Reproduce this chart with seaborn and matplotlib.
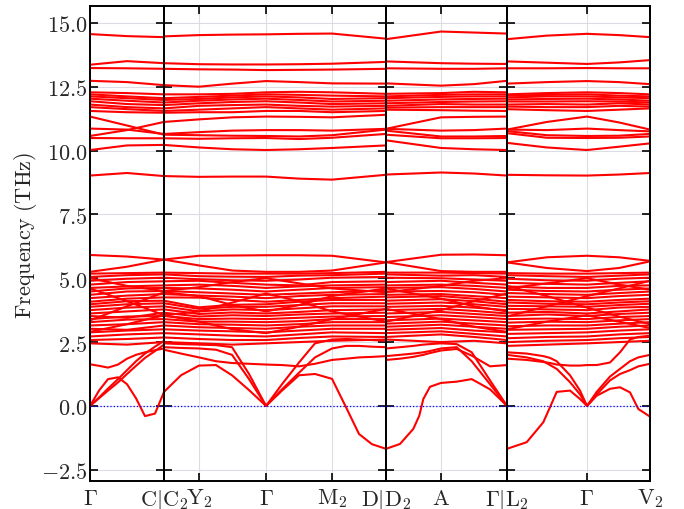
import numpy as np
import pandas as pd
import matplotlib
matplotlib.use('Agg')
import matplotlib.pyplot as plt
from matplotlib.ticker import FuncFormatter, MultipleLocator
import seaborn as sns

# k-path: four disconnected segments (lengths in 1/A-like path units)
seg_len = [0.74, 2.22, 1.21, 1.43]
coarse_k = [
    [0, 0.37, 0.74],
    [0, 0.35, 0.685, 1.02, 1.35, 1.68, 2.22],
    [0, 0.55, 0.88, 1.21],
    [0, 0.4, 0.8, 1.12, 1.43],
]
tick_k = [
    [0, 0.74],
    [0, 0.35, 1.02, 1.68, 2.22],
    [0, 0.55, 1.21],
    [0, 0.8, 1.43],
]
tick_labels = [
    [r'$\Gamma$', ''],
    [r'$\mathrm{C}|\mathrm{C}_2$', r'$\mathrm{Y}_2$', r'$\Gamma$', r'$\mathrm{M}_2$', ''],
    [r'$\mathrm{D}|\mathrm{D}_2$', r'$\mathrm{A}$', ''],
    [r'$\Gamma|\mathrm{L}_2$', r'$\Gamma$', r'$\mathrm{V}_2$'],
]

# high-frequency bands (THz) on the coarse grids: 3 | 7 | 4 | 5 points
high_bands = [
    [14.56, 14.48, 14.44, 14.47, 14.52, 14.54, 14.55, 14.57, 14.58, 14.38, 14.36, 14.66, 14.62, 14.58, 14.36, 14.5, 14.57, 14.52, 14.44],
    [13.36, 13.5, 13.42, 13.42, 13.38, 13.37, 13.37, 13.38, 13.4, 13.47, 13.49, 13.42, 13.4, 13.39, 13.49, 13.44, 13.39, 13.45, 13.54],
    [13.23, 13.22, 13.2, 13.2, 13.18, 13.17, 13.15, 13.16, 13.17, 13.2, 13.22, 13.2, 13.2, 13.22, 13.22, 13.22, 13.23, 13.22, 13.22],
    [12.73, 12.68, 12.56, 12.56, 12.5, 12.62, 12.72, 12.68, 12.63, 12.62, 12.63, 12.54, 12.6, 12.73, 12.62, 12.68, 12.72, 12.68, 12.6],
    [12.28, 12.25, 12.2, 12.2, 12.2, 12.22, 12.28, 12.3, 12.28, 12.22, 12.22, 12.25, 12.3, 12.28, 12.2, 12.25, 12.28, 12.25, 12.2],
    [12.2, 12.12, 12.05, 12.05, 12.1, 12.15, 12.2, 12.18, 12.15, 12.12, 12.12, 12.18, 12.2, 12.2, 12.15, 12.18, 12.2, 12.15, 12.12],
    [12.12, 12.05, 11.98, 11.98, 12.02, 12.08, 12.12, 12.08, 12.02, 12.05, 12.05, 12.1, 12.12, 12.12, 12.08, 12.12, 12.12, 12.08, 12.05],
    [12.03, 11.95, 11.88, 11.88, 11.95, 12.0, 12.03, 11.98, 11.92, 11.95, 11.95, 12.0, 12.02, 12.03, 12.0, 12.02, 12.03, 12.0, 11.95],
    [11.93, 11.82, 11.78, 11.78, 11.85, 11.9, 11.93, 11.88, 11.82, 11.85, 11.85, 11.9, 11.92, 11.93, 11.92, 11.92, 11.93, 11.92, 11.88],
    [11.8, 11.7, 11.65, 11.65, 11.75, 11.78, 11.8, 11.75, 11.72, 11.75, 11.75, 11.82, 11.8, 11.8, 11.8, 11.82, 11.8, 11.85, 11.8],
    [11.7, 11.62, 11.55, 11.55, 11.6, 11.65, 11.7, 11.65, 11.6, 11.65, 11.68, 11.7, 11.7, 11.7, 11.72, 11.7, 11.7, 11.75, 11.72],
    [11.55, 11.5, 11.48, 11.48, 11.5, 11.5, 11.55, 11.55, 11.5, 11.55, 11.6, 11.58, 11.56, 11.55, 11.62, 11.58, 11.55, 11.6, 11.65],
    [10.57, 10.8, 11.12, 11.12, 11.22, 11.3, 11.33, 11.32, 11.3, 11.4, 10.85, 11.3, 11.32, 11.33, 10.82, 11.12, 11.33, 11.1, 10.82],
    [10.86, 10.82, 10.65, 10.65, 10.72, 10.78, 10.8, 10.8, 10.78, 10.85, 10.85, 10.78, 10.8, 10.86, 10.82, 10.8, 10.86, 10.8, 10.75],
    [11.33, 10.98, 10.62, 10.62, 10.6, 10.58, 10.57, 10.55, 10.6, 10.82, 10.78, 10.55, 10.55, 10.57, 10.76, 10.6, 10.57, 10.58, 10.65],
    [10.49, 10.48, 10.48, 10.48, 10.46, 10.48, 10.49, 10.45, 10.5, 10.65, 10.62, 10.48, 10.48, 10.49, 10.68, 10.5, 10.49, 10.5, 10.55],
    [10.02, 10.2, 10.22, 10.22, 10.12, 10.05, 10.02, 10.05, 10.1, 10.2, 10.4, 10.1, 10.05, 10.02, 10.3, 10.12, 10.02, 10.15, 10.28],
    [9.02, 9.12, 9.0, 9.0, 8.97, 8.98, 8.98, 8.9, 8.86, 9.05, 9.06, 9.14, 9.1, 9.02, 9.05, 9.03, 9.02, 9.06, 9.12],
]

# dense optical manifold 2.4 - 5.9 THz, same coarse grids
mid_bands = [
    [5.91, 5.85, 5.73, 5.73, 5.88, 5.89, 5.9, 5.9, 5.88, 5.62, 5.63, 5.92, 5.93, 5.9, 5.62, 5.82, 5.88, 5.82, 5.68],
    [5.25, 5.45, 5.73, 5.73, 5.5, 5.3, 5.25, 5.25, 5.3, 5.62, 5.63, 5.28, 5.25, 5.25, 5.62, 5.4, 5.28, 5.4, 5.66],
    [5.18, 5.2, 5.22, 5.22, 5.2, 5.18, 5.18, 5.18, 5.2, 5.25, 5.22, 5.22, 5.2, 5.18, 5.2, 5.18, 5.18, 5.2, 5.22],
    [5.05, 5.12, 5.15, 5.15, 5.08, 5.06, 5.05, 5.1, 5.12, 5.18, 5.15, 5.1, 5.12, 5.05, 5.12, 5.08, 5.05, 5.1, 5.15],
    [4.9, 4.98, 5.02, 5.02, 4.96, 4.92, 4.9, 4.95, 5.02, 5.05, 5.02, 5.0, 4.95, 4.9, 4.98, 4.92, 4.9, 4.98, 5.02],
    [4.75, 4.85, 4.88, 4.88, 4.9, 4.82, 4.75, 4.72, 4.85, 4.88, 4.85, 4.9, 4.82, 4.75, 4.82, 4.78, 4.75, 4.82, 4.88],
    [4.62, 4.68, 4.72, 4.72, 4.75, 4.7, 4.62, 4.68, 4.72, 4.75, 4.72, 4.75, 4.7, 4.62, 4.68, 4.62, 4.62, 4.7, 4.72],
    [4.48, 4.6, 4.62, 4.62, 4.6, 4.55, 4.48, 4.55, 4.62, 4.65, 4.62, 4.65, 4.58, 4.48, 4.55, 4.5, 4.48, 4.55, 4.6],
    [4.35, 4.48, 4.5, 4.5, 4.45, 4.4, 4.35, 4.4, 4.45, 4.52, 4.48, 4.5, 4.45, 4.35, 4.42, 4.38, 4.35, 4.42, 4.48],
    [4.22, 4.32, 4.38, 4.38, 4.32, 4.28, 4.22, 4.3, 4.35, 4.38, 4.35, 4.38, 4.3, 4.22, 4.28, 4.25, 4.22, 4.3, 4.35],
    [4.08, 4.2, 4.25, 4.25, 4.24, 4.15, 4.08, 4.15, 4.22, 4.28, 4.25, 4.3, 4.2, 4.08, 4.15, 4.1, 4.08, 4.15, 4.2],
    [3.98, 4.1, 4.12, 4.12, 3.86, 3.96, 3.98, 4.08, 4.15, 4.15, 4.12, 4.18, 4.1, 3.98, 4.05, 4.0, 3.98, 4.05, 4.1],
    [3.88, 3.98, 4.02, 4.02, 3.8, 3.88, 3.88, 3.95, 4.02, 4.02, 4.0, 4.05, 3.98, 3.88, 3.92, 3.9, 3.88, 3.95, 4.0],
    [3.75, 3.85, 3.9, 3.9, 3.7, 3.78, 3.75, 3.82, 3.9, 3.9, 3.88, 3.92, 3.85, 3.75, 3.8, 3.78, 3.75, 3.85, 3.88],
    [3.62, 3.7, 3.78, 3.78, 3.6, 3.66, 3.62, 3.68, 3.75, 3.78, 3.75, 3.8, 3.72, 3.62, 3.65, 3.68, 3.62, 3.7, 3.78],
    [3.52, 3.45, 3.65, 3.65, 3.5, 3.55, 3.52, 3.58, 3.62, 3.65, 3.62, 3.68, 3.6, 3.52, 3.52, 3.58, 3.52, 3.6, 3.65],
    [3.4, 3.5, 3.52, 3.52, 3.4, 3.42, 3.4, 3.45, 3.5, 3.52, 3.48, 3.55, 3.48, 3.4, 3.4, 3.42, 3.4, 3.48, 3.52],
    [3.28, 3.38, 3.4, 3.4, 3.3, 3.3, 3.28, 3.32, 3.4, 3.4, 3.35, 3.42, 3.35, 3.28, 3.26, 3.3, 3.28, 3.35, 3.4],
    [3.15, 3.2, 3.28, 3.28, 3.2, 3.18, 3.15, 3.2, 3.28, 3.28, 3.22, 3.3, 3.22, 3.15, 3.12, 3.15, 3.15, 3.22, 3.28],
    [3.02, 2.98, 3.15, 3.15, 3.08, 3.05, 3.02, 3.1, 3.15, 3.15, 3.1, 3.18, 3.1, 3.02, 2.98, 3.0, 3.02, 3.1, 3.15],
    [2.88, 2.95, 3.0, 3.0, 2.95, 2.92, 2.88, 2.95, 3.02, 3.02, 2.98, 3.05, 2.95, 2.88, 2.82, 2.85, 2.88, 2.95, 3.0],
    [2.72, 2.8, 2.85, 2.85, 2.8, 2.75, 2.72, 2.8, 2.88, 2.85, 2.85, 2.92, 2.82, 2.72, 2.65, 2.7, 2.72, 2.8, 2.85],
    [2.58, 2.62, 2.68, 2.68, 2.62, 2.58, 2.58, 2.66, 2.72, 2.7, 2.7, 2.8, 2.7, 2.58, 2.5, 2.55, 2.58, 2.65, 2.7],
    [2.45, 2.4, 2.5, 2.5, 2.45, 2.4, 2.45, 2.5, 2.55, 2.6, 2.6, 2.5, 2.55, 2.45, 2.35, 2.4, 2.45, 2.5, 2.55],
    # strongly dispersive branches that cut across the manifold
    [3.35, 3.9, 4.45, 4.45, 4.3, 3.95, 3.7, 3.95, 4.3, 4.6, 4.6, 4.2, 3.9, 3.7, 3.5, 3.9, 4.3, 4.6, 4.9],
    [4.6, 4.1, 3.55, 3.55, 3.7, 4.05, 4.4, 4.1, 3.7, 3.3, 3.3, 3.75, 4.1, 4.4, 4.7, 4.3, 3.85, 3.5, 3.2],
    [2.9, 3.2, 3.55, 3.55, 3.3, 3.0, 2.85, 3.1, 3.4, 3.8, 3.8, 3.4, 3.1, 2.9, 3.0, 3.3, 3.55, 3.3, 3.05],
    [5.0, 4.7, 4.5, 4.5, 4.65, 4.85, 5.0, 4.8, 4.6, 4.45, 4.45, 4.7, 4.9, 5.0, 4.6, 4.8, 5.0, 4.75, 4.55],
]

# acoustic / low optical branches, sampled more finely
low_k = [
    [0, 0.09, 0.18, 0.28, 0.37, 0.46, 0.55, 0.65, 0.74],
    [0, 0.17, 0.35, 0.52, 0.68, 0.85, 1.02, 1.18, 1.35, 1.51, 1.68, 1.82, 1.95, 2.08, 2.22],
    [0, 0.14, 0.273, 0.333, 0.373, 0.44, 0.55, 0.707, 0.857, 1.04, 1.21],
    [0, 0.197, 0.363, 0.43, 0.497, 0.63, 0.73, 0.8, 0.897, 1.03, 1.13, 1.23, 1.313, 1.43],
]
low_bands = [
    [
        [0, 0.6, 1.05, 1.12, 0.85, 0.3, -0.4, -0.3, 0.55],
        [0, 0.33, 0.68, 1.05, 1.4, 1.75, 2.05, 2.32, 2.55],
        [0, 0.3, 0.6, 0.92, 1.25, 1.57, 1.88, 2.15, 2.4],
        [1.63, 1.57, 1.5, 1.62, 1.85, 2.0, 2.1, 2.18, 2.25],
    ],
    [
        [0.55, 1.2, 1.58, 1.6, 1.2, 0.62, 0.0, 0.6, 1.2, 1.25, 1.06, -0.05, -1.1, -1.5, -1.68],
        [2.2, 2.05, 1.9, 1.75, 1.68, 1.65, 1.62, 1.6, 1.55, 1.65, 1.8, 1.85, 1.9, 1.92, 1.95],
        [2.3, 2.27, 2.25, 2.2, 2.0, 1.05, 0.0, 0.85, 1.7, 2.45, 2.6, 2.62, 2.6, 2.58, 2.55],
        [2.45, 2.42, 2.4, 2.38, 2.3, 1.25, 0.0, 0.65, 1.3, 1.9, 2.25, 2.35, 2.35, 2.32, 2.3],
    ],
    [
        [-1.68, -1.49, -0.9, -0.38, 0.27, 0.75, 0.9, 0.95, 1.05, 0.65, 0.0],
        [1.8, 1.85, 1.92, 1.97, 2.0, 2.07, 2.17, 2.23, 1.97, 1.55, 1.6],
        [1.95, 2.0, 2.05, 2.08, 2.1, 2.15, 2.25, 2.3, 1.75, 0.85, 0.0],
        [2.25, 2.3, 2.35, 2.38, 2.4, 2.42, 2.45, 2.42, 2.1, 1.0, 0.0],
    ],
    [
        [-1.68, -1.42, -0.64, -0.05, 0.55, 0.6, 0.27, 0.0, 0.4, 0.67, 0.73, 0.53, -0.12, -0.42],
        [1.85, 1.8, 1.72, 1.68, 1.62, 1.58, 1.58, 1.6, 1.6, 1.7, 2.1, 2.6, 2.7, 2.75],
        [2.0, 1.9, 1.75, 1.6, 1.45, 0.93, 0.45, 0.0, 0.45, 1.0, 1.25, 1.4, 1.55, 1.65],
        [2.1, 2.05, 1.95, 1.88, 1.75, 1.2, 0.6, 0.0, 0.55, 1.15, 1.45, 1.75, 1.9, 2.0],
    ],
]

ylim = (-2.94, 15.66)


def panel_frame(p):
    """Long-form table of every band in panel p."""
    start = sum(len(k) for k in coarse_k[:p])
    stop = start + len(coarse_k[p])
    recs = []
    band = 0
    for row in high_bands + mid_bands:
        for k, f in zip(coarse_k[p], row[start:stop]):
            recs.append((band, k, f))
        band += 1
    for row in low_bands[p]:
        for k, f in zip(low_k[p], row):
            recs.append((band, k, f))
        band += 1
    return pd.DataFrame(recs, columns=['band', 'k', 'freq'])


sns.set_theme(style='whitegrid')
plt.rcParams['font.family'] = ['DejaVu Serif']
plt.rcParams['mathtext.fontset'] = 'cm'

fig = plt.figure(figsize=(6.84, 5.10), dpi=100)
gs = fig.add_gridspec(1, 4, width_ratios=seg_len, wspace=0,
                      left=0.1316, right=0.9503, bottom=0.0549, top=0.9863)
fmt = FuncFormatter(lambda v, pos: f'${v:.1f}$')

for p in range(4):
    ax = fig.add_subplot(gs[0, p])
    df = panel_frame(p)
    sns.lineplot(data=df, x='k', y='freq', units='band', estimator=None,
                 sort=False, color='red', lw=1.5, ax=ax, legend=False)
    ax.axhline(0, color='blue', ls=':', lw=0.9, zorder=3)

    ax.set_xlim(0, seg_len[p])
    ax.set_ylim(*ylim)
    ax.set_xticks(tick_k[p])
    ax.set_xticklabels(tick_labels[p], fontsize=16)
    ax.yaxis.set_major_locator(MultipleLocator(2.5))
    ax.yaxis.set_major_formatter(fmt)
    ax.grid(True, color='#dcdce4', lw=0.8)
    ax.set_axisbelow(True)
    ax.tick_params(axis='both', which='major', direction='in', length=6,
                   width=1.2, color='black', top=True, right=True,
                   bottom=True, left=True, labelsize=16)
    ax.tick_params(axis='x', pad=4)
    ax.tick_params(axis='y', pad=2)
    for s in ax.spines.values():
        s.set_color('black')
        s.set_linewidth(1.4)
    ax.set_xlabel('')
    if p == 0:
        ax.set_ylabel(r'$\mathrm{Frequency\ (THz)}$', fontsize=16)
        ax.yaxis.set_label_coords(-0.695, 0.52)
    else:
        ax.set_ylabel('')
        ax.tick_params(labelleft=False)

fig.savefig('out.png', dpi=100)
